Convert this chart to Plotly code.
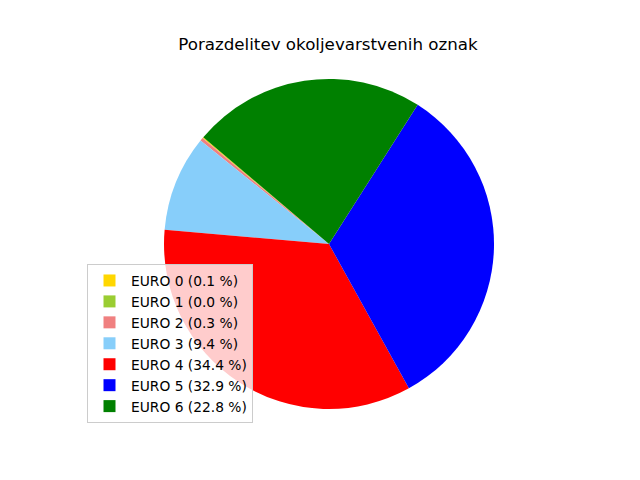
import plotly.graph_objects as go

labels = ["EURO 0", "EURO 1", "EURO 2", "EURO 3", "EURO 4", "EURO 5", "EURO 6"]
percents = [0.1, 0.02, 0.3, 9.4, 34.4, 32.9, 22.8]
percent_labels = ["0.1", "0.0", "0.3", "9.4", "34.4", "32.9", "22.8"]
colors = ["gold", "yellowgreen", "lightcoral", "lightskyblue", "red", "blue", "green"]

legend_names = [f"{l} ({p} %)" for l, p in zip(labels, percent_labels)]

W, H = 640, 480
cx, cy, r = 329, 244, 165

fig = go.Figure(go.Pie(
    labels=legend_names,
    values=percents,
    marker=dict(colors=colors, line=dict(width=0)),
    sort=False,
    direction="counterclockwise",
    rotation=-50,
    textinfo="none",
    hoverinfo="label",
    domain=dict(x=[(cx - r) / W, (cx + r) / W], y=[(H - cy - r) / H, (H - cy + r) / H]),
))

fig.update_layout(
    width=W, height=H,
    margin=dict(l=0, r=0, t=0, b=0),
    paper_bgcolor="white",
    plot_bgcolor="white",
    font=dict(family="DejaVu Sans", color="black"),
    title=dict(text="Porazdelitev okoljevarstvenih oznak", x=328 / W, xanchor="center",
               y=1 - 44 / H, yanchor="middle", font=dict(size=16.7, family="DejaVu Sans")),
    legend=dict(x=87 / W, y=1 - 264 / H, xanchor="left", yanchor="top",
                bgcolor="rgba(255,255,255,0.8)", bordercolor="#cccccc", borderwidth=1,
                font=dict(size=13.8, family="DejaVu Sans"), itemwidth=33,
                tracegroupgap=0),
)

fig.write_html("out.html", config={"displayModeBar": False},
               post_script="document.body.style.margin='0';")
